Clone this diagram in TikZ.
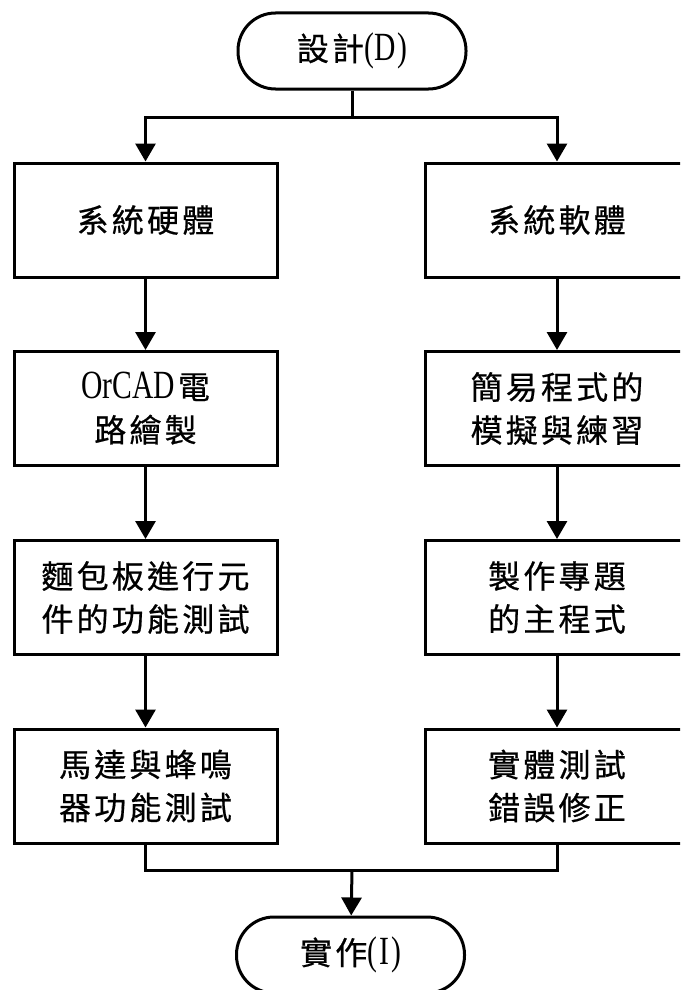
\documentclass[tikz,border=0pt]{standalone}
\usepackage{fontspec}
\newfontfamily\cjk[LetterSpace=10,FakeBold=0.6]{Noto Sans CJK TC}
\newfontfamily\latn[FakeStretch=0.74]{Liberation Serif}
\newcommand{\lt}[1]{{\latn\fontsize{40}{43}\selectfont #1}}
\usetikzlibrary{arrows.meta}
\begin{document}
\begin{tikzpicture}[x=1pt,y=-1pt,
  every node/.style={font=\cjk\fontsize{32}{43}\selectfont},
  stadium/.style={draw,line width=3pt,rounded corners=37.5pt,minimum width=228pt,minimum height=76pt,inner sep=0pt},
  stepbox/.style={draw,line width=3pt,minimum width=263pt,minimum height=114pt,align=center,inner sep=0pt},
  conn/.style={line width=3pt},
  arr/.style={line width=3pt,-{Triangle[width=20pt,length=18pt]}}]
\useasboundingbox (0,0) rectangle (680,990);
\clip (0,0) rectangle (680,990);
\fill[white] (0,0) rectangle (680,990);
\node[stadium] (top) at (352,51) {設計\lt{(\kern1ptD\kern1pt)}};
\node[stepbox] (L1) at (145.5,220) {系統硬體};
\node[stepbox] (L2) at (145.5,408.5) {\lt{OrCAD\kern3pt}電\\路繪製};
\node[stepbox] (L3) at (145.5,597.5) {麵包板進行元\\件的功能測試};
\node[stepbox] (L4) at (145.5,786) {馬達與蜂鳴\\器功能測試};
\node[stepbox] (R1) at (557,220) {系統軟體};
\node[stepbox] (R2) at (557,408.5) {簡易程式的\\模擬與練習};
\node[stepbox] (R3) at (557,597.5) {製作專題\\的主程式};
\node[stepbox] (R4) at (557,786) {實體測試\\錯誤修正};
\node[stadium] (bot) at (350.5,955) {實作\lt{(\kern2ptI\kern2pt)}};
\coordinate (j1) at (352,117);
\coordinate (j2) at (352,870);
\draw[conn] (top) -- (j1);
\draw[arr] (j1) -| (L1);
\draw[arr] (j1) -| (R1);
\draw[arr] (L1) -- (L2);
\draw[arr] (L2) -- (L3);
\draw[arr] (L3) -- (L4);
\draw[arr] (R1) -- (R2);
\draw[arr] (R2) -- (R3);
\draw[arr] (R3) -- (R4);
\draw[conn] (L4.south) |- (j2);
\draw[conn] (R4.south) |- (j2);
\draw[arr] (j2) -- (bot);
\end{tikzpicture}
\end{document}
